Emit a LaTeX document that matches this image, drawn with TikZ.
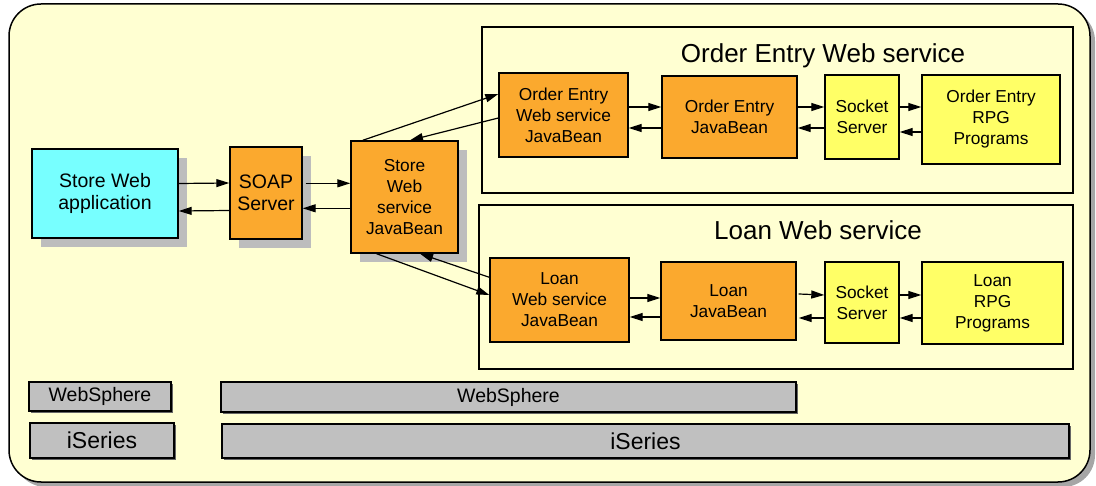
\documentclass[tikz,border=0pt]{standalone}
\usepackage{fontspec}
\setmainfont{Liberation Sans}
\usetikzlibrary{arrows.meta,shadows}
\definecolor{paper}{HTML}{FFFFD2}
\definecolor{cyanbox}{HTML}{77FFFF}
\definecolor{orangebox}{HTML}{FBA92E}
\definecolor{yellowbox}{HTML}{FFFF66}
\definecolor{barfill}{HTML}{C0C0C0}
\definecolor{shade}{HTML}{BDBDBD}
\tikzset{
  box/.style={draw=black, line width=1.4pt, align=center, inner sep=0pt,
    font=\fontsize{17.3}{21}\selectfont},
  bigbox/.style={box, font=\fontsize{19.5}{21.5}\selectfont},
  shadowed/.style={drop shadow={shadow xshift=9pt, shadow yshift=-9pt, fill=shade, opacity=1}},
  appbox/.style={bigbox, fill=cyanbox, shadowed},
  beanbox/.style={box, fill=orangebox},
  sockbox/.style={box, fill=yellowbox},
  panel/.style={draw=black, line width=1.3pt, fill=paper},
  bar/.style={draw=black, line width=1.3pt, fill=barfill, inner sep=0pt,
    drop shadow={shadow xshift=2pt, shadow yshift=-2pt, fill=black!60, opacity=1}},
  title/.style={font=\fontsize{26}{28}\selectfont, anchor=base, inner sep=0pt},
  arr/.style={-{Triangle[length=13pt,width=8pt]}, line width=1.2pt},
}
\begin{document}
\begin{tikzpicture}[x=1pt, y=-1pt]
\useasboundingbox (0,0) rectangle (1096,486);

% outer frame
\draw[line width=1.5pt, fill=paper, rounded corners=32pt,
  drop shadow={shadow xshift=5pt, shadow yshift=-5pt, fill=black!35, opacity=1}]
  (9,4) rectangle (1090,482);

% service panels
\draw[panel] (482,27) rectangle (1073,193);
\draw[panel] (479,205) rectangle (1073,369);
\node[title] (oetitle) at (823,63) {Order Entry Web service};
\node[title] (lntitle) at (818,240) {Loan Web service};

% client side
\node[appbox, minimum width=146pt, minimum height=89pt] (app) at (105,193.5) {Store Web\\application};
\node[bigbox, fill=orangebox, shadowed, minimum width=72pt, minimum height=92pt] (soap) at (266,193) {SOAP\\Server};
\node[beanbox, shadowed, minimum width=107pt, minimum height=112pt] (store) at (404.5,197) {Store\\Web\\service\\JavaBean};

% order entry service
\node[beanbox, minimum width=129pt, minimum height=84pt] (oews) at (563.5,115) {Order Entry\\Web service\\JavaBean};
\node[beanbox, minimum width=135pt, minimum height=82pt] (oejb) at (729.5,117) {Order Entry\\JavaBean};
\node[sockbox, minimum width=74pt, minimum height=84pt] (oesock) at (862,117) {Socket\\Server};
\node[sockbox, minimum width=138pt, minimum height=89pt] (oerpg) at (991,119.5) {Order Entry\\RPG\\Programs};

% loan service
\node[beanbox, minimum width=139pt, minimum height=84pt] (lnws) at (559.5,300) {Loan\\Web service\\JavaBean};
\node[beanbox, minimum width=135pt, minimum height=78pt] (lnjb) at (728.5,301) {Loan\\JavaBean};
\node[sockbox, minimum width=74pt, minimum height=81pt] (lnsock) at (862,302.5) {Socket\\Server};
\node[sockbox, minimum width=141pt, minimum height=82pt] (lnrpg) at (992.5,303) {Loan\\RPG\\Programs};

% platform bars
\node[bar, minimum width=142pt, minimum height=29pt, font=\fontsize{19.5}{20}\selectfont] (ws1) at (100,396.5) {WebSphere};
\node[bar, minimum width=575pt, minimum height=30pt, font=\fontsize{19.5}{20}\selectfont] (ws2) at (508.5,397) {WebSphere};
\node[bar, minimum width=144pt, minimum height=35pt, font=\fontsize{23}{24}\selectfont] (is1) at (102,440.5) {iSeries};
\node[bar, minimum width=847pt, minimum height=34pt, font=\fontsize{23}{24}\selectfont] (is2) at (645.5,441) {iSeries};

% requests and replies
\draw[arr] ([yshift=10pt]app.east) -- ([yshift=10pt]soap.west);
\draw[arr] ([yshift=-17.5pt]soap.west) -- ([yshift=-17.5pt]app.east);
\draw[arr] ([yshift=9.7pt,xshift=3pt]soap.east) -- ([yshift=13.7pt]store.west);
\draw[arr] ([yshift=-11.3pt]store.west) -- ([yshift=-15.3pt]soap.east);

\draw[arr] ([xshift=-41.8pt]store.north) -- ([yshift=21pt]oews.west);
\draw[arr] ([yshift=-3pt]oews.west) -- ([xshift=5.5pt]store.north);
\draw[arr] ([xshift=-28pt]store.south) -- ([yshift=5pt]lnws.west);
\draw[arr] ([yshift=22.7pt]lnws.west) -- ([xshift=15.5pt]store.south);

\draw[arr] ([yshift=8pt]oews.east) -- ([yshift=10pt]oejb.west);
\draw[arr] ([yshift=-11pt]oejb.west) -- ([yshift=-13pt]oews.east);
\draw[arr] ([yshift=10pt]oejb.east) -- ([yshift=10pt]oesock.west);
\draw[arr] ([yshift=-11pt]oesock.west) -- ([yshift=-11pt]oejb.east);
\draw[arr] ([yshift=10pt]oesock.east) -- ([yshift=12.5pt]oerpg.west);
\draw[arr] ([yshift=-12.5pt]oerpg.west) -- ([yshift=-15pt]oesock.east);

\draw[arr] ([yshift=2pt]lnws.east) -- ([yshift=3pt]lnjb.west);
\draw[arr] ([yshift=-16pt]lnjb.west) -- ([yshift=-17pt]lnws.east);
\draw[arr] ([yshift=7pt,xshift=2pt]lnjb.east) -- ([yshift=7.5pt]lnsock.west);
\draw[arr] ([yshift=-15.5pt]lnsock.west) -- ([yshift=-17pt,xshift=2pt]lnjb.east);
\draw[arr] ([yshift=7.5pt]lnsock.east) -- ([yshift=8pt]lnrpg.west);
\draw[arr] ([yshift=-15pt]lnrpg.west) -- ([yshift=-15.5pt]lnsock.east);
\end{tikzpicture}
\end{document}
